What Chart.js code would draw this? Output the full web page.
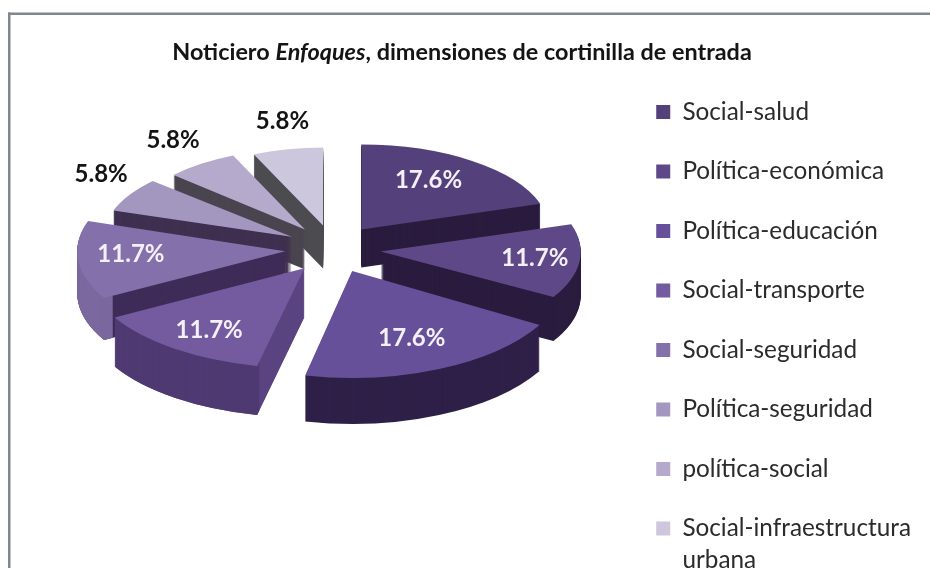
<!DOCTYPE html>
<html>
<head>
<meta charset="utf-8">
<script src="https://cdn.jsdelivr.net/npm/chart.js@4/dist/chart.umd.js"></script>
<style>
  html, body { margin: 0; padding: 0; background: #fff; overflow: hidden; width: 930px; height: 568px; }
  canvas { display: block; filter: blur(0.5px); }
</style>
</head>
<body>
<canvas id="mycanvas" width="930" height="640"></canvas>
<script>
var categories = ['Social-salud', 'Política-económica', 'Política-educación', 'Social-transporte',
  'Social-seguridad', 'Política-seguridad', 'política-social', ['Social-infraestructura', 'urbana']];
var values = [17.6, 11.7, 17.6, 11.7, 11.7, 5.8, 5.8, 5.8];

var titleParts = [
  { text: 'Noticiero ', font: 'bold 23.4px Lato' },
  { text: 'Enfoques', font: 'italic bold 23.4px Lato' },
  { text: ', dimensiones de cortinilla de entrada', font: 'bold 23.4px Lato' }
];

// colours, one per slice
var topColors = ['#54407a', '#5f4888', '#67509a', '#745a9f', '#8470ab', '#a497bf', '#b5aacb', '#cdc7dd'];
var legendColors = topColors;
var wallColors = ['#2a1c3e', '#2a1c3e', '#2e2048', '#5a4480', '#3f2c58', '#3f3050', '#4a4550', '#4b4b50'];
// only the two left front slices show a lighter curved wall
var rimColors = [null, null, null, '#4f3a72', '#7b689f', null, null, null];
var labelColors = ['#f4f0f8', '#f4f0f8', '#f4f0f8', '#f4f0f8', '#f4f0f8', '#141414', '#141414', '#141414'];

// fake 3d settings
var pieX = 333, pieY = 249, explode = 48, tilt = 0.5;
var radiusX = [188, 200, 217, 218, 208, 188, 178, 172];
var radiusY = [85, 90, 107, 100, 95, 83, 81, 78];
var depth = [38, 44, 46, 49, 42, 38, 40, 43];
var labelX = [114, 155, 149, 160, 155, 221, 226, 197];
var labelY = [61, 62, 73, 77, 33, 124, 110, 107];
var drawOrder = [7, 6, 0, 5, 4, 1, 3, 2];

function sliceAt(ctx, arc, i, shiftY) {
  var mid = (arc.startAngle + arc.endAngle) / 2;
  ctx.save();
  ctx.translate(pieX + Math.cos(mid) * explode, pieY + Math.sin(mid) * explode * tilt + shiftY);
  ctx.scale(radiusX[i] / arc.outerRadius, radiusY[i] / arc.outerRadius);
  ctx.translate(-arc.x, -arc.y);
  arc.draw(ctx);
  ctx.restore();
}

function flat(color) {
  return { backgroundColor: color, borderWidth: 0, offset: 0, spacing: 0, circular: true };
}

function paintSlice(ctx, arc, i) {
  var keepOptions = arc.options;
  var keepInner = arc.innerRadius;
  var d;
  // radial walls
  arc.options = flat(wallColors[i]);
  for (d = depth[i]; d > 0; d--) sliceAt(ctx, arc, i, d);
  // curved outer wall
  if (rimColors[i]) {
    arc.options = flat(rimColors[i]);
    arc.innerRadius = arc.outerRadius - 10;
    for (d = depth[i]; d > 0; d--) sliceAt(ctx, arc, i, d);
    arc.innerRadius = keepInner;
  }
  // top face
  arc.options = flat(topColors[i]);
  sliceAt(ctx, arc, i, 0);
  arc.options = keepOptions;
}

var pie3d = {
  id: 'pie3d',
  beforeDatasetsDraw: function(chart) {
    var ctx = chart.ctx;
    var arcs = chart.getDatasetMeta(0).data;
    drawOrder.forEach(function(i) { paintSlice(ctx, arcs[i], i); });
    return false;
  },
  afterDraw: function(chart) {
    var ctx = chart.ctx;
    var arcs = chart.getDatasetMeta(0).data;
    // frame
    ctx.save();
    ctx.fillStyle = '#7f888c';
    ctx.fillRect(8, 12.5, 922, 2.5);
    ctx.fillRect(8, 12.5, 2.5, 556);

    // title, mixed bold / italic
    var total = 0, x;
    titleParts.forEach(function(p) { ctx.font = p.font; total += ctx.measureText(p.text).width; });
    x = 462 - total / 2;
    ctx.fillStyle = '#141414';
    ctx.textBaseline = 'middle';
    ctx.textAlign = 'left';
    titleParts.forEach(function(p) {
      ctx.font = p.font;
      ctx.fillText(p.text, x, 52);
      x += ctx.measureText(p.text).width;
    });

    // percent labels
    ctx.font = 'bold 24px Lato';
    ctx.textAlign = 'center';
    arcs.forEach(function(arc, i) {
      var mid = (arc.startAngle + arc.endAngle) / 2;
      ctx.fillStyle = labelColors[i];
      ctx.fillText(values[i].toFixed(1) + '%',
        pieX + Math.cos(mid) * (explode + labelX[i]),
        pieY + Math.sin(mid) * (explode * tilt + labelY[i]));
    });
    ctx.restore();
  }
};

var chart = new Chart(document.getElementById('mycanvas'), {
  type: 'pie',
  data: {
    labels: categories,
    datasets: [{ data: values, backgroundColor: legendColors, borderWidth: 0 }]
  },
  plugins: [pie3d],
  options: {
    responsive: false,
    animation: false,
    radius: 200,
    layout: { padding: { top: 64.6, right: 9, left: 0, bottom: 0 } },
    plugins: {
      title: { display: false },
      tooltip: { enabled: false },
      legend: {
        position: 'right',
        align: 'start',
        labels: {
          boxWidth: 14,
          boxHeight: 14,
          padding: 35.2,
          color: '#2b2b2b',
          font: { family: 'Lato', size: 24.3, lineHeight: '32px' }
        }
      }
    }
  }
});
</script>
</body>
</html>
